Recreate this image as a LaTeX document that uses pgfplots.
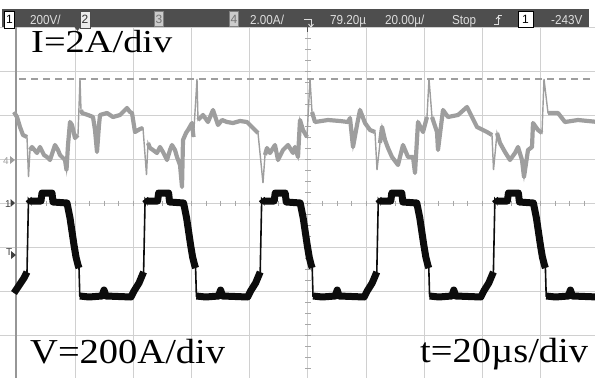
\documentclass[border=0pt]{standalone}
\usepackage{pgfplots}
\pgfplotsset{compat=1.18}
\usepackage{pgfplotstable}
\usepackage{fontspec}
\setmainfont{Liberation Serif}
\newfontfamily\barfont{Liberation Sans}

\definecolor{gridc}{RGB}{208,208,208}
\definecolor{barbg}{RGB}{78,78,78}
\definecolor{bartxt}{RGB}{222,222,222}
\definecolor{chfour}{RGB}{158,158,158}
\definecolor{chone}{RGB}{12,12,12}
\definecolor{framec}{RGB}{150,150,150}

% Screen coordinates: x to the right, y downwards; 58.2 units per horizontal
% division (20 us), 44 units per vertical division.

% Channel 1 (voltage); nan rows separate the fast edges from the noisy levels
\pgfplotstableread{
x y
14 293
20 284
24 278
27 272
nan nan
28.5 199
30 201
41 201
42 193
52 193
53 202
67 203
70 218
74 245
76 257
78 265
79 268
nan nan
79.8 296
89 297
102 296
104 290
106 296
131 297
134 291
139 283
143.6 272
nan nan
145.1 199
146.6 201
157.6 201
158.6 193
168.6 193
169.6 202
183.6 203
186.6 218
190.6 245
192.6 257
194.6 265
195.6 268
nan nan
196.4 296
205.6 297
218.6 296
220.6 290
222.6 296
247.6 297
250.6 291
255.6 283
260.2 272
nan nan
261.7 199
263.2 201
274.2 201
275.2 193
285.2 193
286.2 202
300.2 203
303.2 218
307.2 245
309.2 257
311.2 265
312.2 268
nan nan
313 296
322.2 297
335.2 296
337.2 290
339.2 296
364.2 297
367.2 291
372.2 283
376.8 272
nan nan
378.3 199
379.8 201
390.8 201
391.8 193
401.8 193
402.8 202
416.8 203
419.8 218
423.8 245
425.8 257
427.8 265
428.8 268
nan nan
429.6 296
438.8 297
451.8 296
453.8 290
455.8 296
480.8 297
483.8 291
488.8 283
493.4 272
nan nan
494.9 199
496.4 201
507.4 201
508.4 193
518.4 193
519.4 202
533.4 203
536.4 218
540.4 245
542.4 257
544.4 265
545.4 268
nan nan
546.2 296
555.4 297
568.4 296
570.4 290
572.4 296
598 297
}\chonedata

% Channel 4 (current); nan rows isolate the narrow spikes
\pgfplotstableread{
x y
14 112
17 117
20 127
23 135
27 137
nan nan
28.5 177
nan nan
30 150
32 147
37 153
40 147
44 155
47 157
50 160
55 145
58 150
60 155
65 160
66.5 170
68 145
70 122
72 125
75 138
78 135
nan nan
80 79
nan nan
81 110
82 113
88 115
93 117
95 130
97 152
99 125
100 115
107 113
113 117
120 115
127 108
130 112
132 113
135 132
140 129
143 128
nan nan
146.5 175
nan nan
148 143
150 148
153 150
157 153
160 147
163 152
167 160
170 150
172 145
175 150
177 157
180 165
182 187
183 140
186 133
188 130
192 123
193.5 137
nan nan
197 79
nan nan
198 120
203 115
208 122
213 110
218 125
222 120
227 122
233 123
240 121
247 122
253 128
258 133
nan nan
263 183
nan nan
265 155
267 148
270 153
275 145
278 160
283 150
288 145
293 153
295 147
298 157
300 120
303 130
307 137
nan nan
310 79
nan nan
312 112
315 122
328 120
340 121
348 122
350 118
353 147
357 125
360 110
365 123
370 130
375 132
nan nan
377 170
nan nan
380 143
382 127
385 140
388 148
392 157
398 165
403 145
408 157
413 157
415 173
418 122
423 132
427 117
nan nan
429 79
nan nan
432 117
437 132
438 150
443 110
448 117
458 115
467 107
472 117
477 127
487 132
492 135
nan nan
493.5 170
nan nan
497 133
500 143
505 152
510 160
515 153
518 147
522 160
524 177
528 150
532 147
533 123
538 130
542 133
nan nan
544 79
nan nan
548 113
558 113
565 122
578 120
598 122
}\chfourdata

\begin{document}
\begin{tikzpicture}
\begin{axis}[
  name=scope,
  scale only axis, width=595pt, height=378pt,
  xmin=0, xmax=595, ymin=0, ymax=378, y dir=reverse,
  axis line style={draw=none}, tick style={draw=none},
  xtick={16.8,75.0,133.2,191.4,249.6,307.8,366.0,424.2,482.4,540.6},
  ytick={27,71,115,159,203,247,291,335},
  xticklabels={}, yticklabels={},
  grid=major, major grid style={gridc, line width=1pt},
]
% graticule subdivision marks on the centre lines
\pgfplotsinvokeforeach{1,...,40}{
  \draw[gridc!80!black, line width=0.8pt] (axis cs:{16.8+#1*14.55},200.5) -- (axis cs:{16.8+#1*14.55},205.5);
}
\pgfplotsinvokeforeach{1,...,32}{
  \draw[gridc!80!black, line width=0.8pt] (axis cs:305,{27+#1*11}) -- (axis cs:310.6,{27+#1*11});
}
% screen frame on the left
\draw[framec, line width=2pt] (axis cs:16.3,27) -- (axis cs:16.3,378);
% current limit marker
\draw[chfour, line width=1.2pt, dash pattern=on 7pt off 5pt] (axis cs:19,79) -- (axis cs:600,79);

% channel 4: current
\addplot[chfour, line width=1.4pt, unbounded coords=discard] table {\chfourdata};
\addplot[chfour, line width=4.2pt, line join=round, unbounded coords=jump] table {\chfourdata};
% channel 1: voltage
\addplot[chone, line width=1.6pt, unbounded coords=discard] table {\chonedata};
\addplot[chone, line width=7pt, line join=round, unbounded coords=jump] table {\chonedata};

% channel markers at the left edge
\node[anchor=base west, inner sep=0, text=chfour, font=\barfont\fontsize{10}{10}\selectfont] at (axis cs:3,164) {4};
\fill[chfour] (axis cs:10,156) -- (axis cs:15,160) -- (axis cs:10,164) -- cycle;
\node[anchor=base west, inner sep=0, text=black!75, font=\barfont\fontsize{10}{10}\selectfont] at (axis cs:5,207) {1};
\fill[black!75] (axis cs:10.5,199) -- (axis cs:15,203) -- (axis cs:10.5,207) -- cycle;
\node[anchor=base west, inner sep=0, text=black!75, font=\barfont\fontsize{10}{10}\selectfont] at (axis cs:6,255) {T};
\fill[black!75] (axis cs:11,251) -- (axis cs:16,255) -- (axis cs:11,259) -- cycle;

% status bar
\fill[white] (axis cs:0,0) rectangle (axis cs:595,9);
\fill[barbg] (axis cs:2,9) rectangle (axis cs:589,27);
\fill[barbg] (axis cs:74.5,27) -- (axis cs:80.5,27) -- (axis cs:77.5,31) -- cycle;
\draw[bartxt, line width=0.9pt] (axis cs:304,19) -- (axis cs:311,19) -- (axis cs:311,27);
\draw[bartxt, line width=0.9pt] (axis cs:308.5,24) -- (axis cs:311,27) -- (axis cs:313.5,24);
\draw[barbg, line width=1.2pt] (axis cs:307.5,27) -- (axis cs:307.5,32);
\draw[bartxt, line width=0.9pt] (axis cs:494,24) -- (axis cs:498,24) -- (axis cs:498,15) -- (axis cs:502,15);
\draw[bartxt, line width=0.9pt] (axis cs:496,19) -- (axis cs:498,17) -- (axis cs:500,19);

\filldraw[fill=white, draw=black, line width=0.6pt] (axis cs:4.5,11) rectangle (axis cs:14.5,28);
\node[inner sep=0, text=black, font=\barfont\fontsize{12}{12}\selectfont] at (axis cs:9.5,19.5) {1};
\filldraw[fill=white!92!black, draw=black!70, line width=0.6pt] (axis cs:80,11) rectangle (axis cs:90,28);
\node[inner sep=0, text=black!80, font=\barfont\fontsize{12}{12}\selectfont] at (axis cs:85,19.5) {2};
\filldraw[fill=white!80!black, draw=black!50, line width=0.6pt] (axis cs:154.5,11) rectangle (axis cs:163.5,26);
\node[inner sep=0, text=black!55, font=\barfont\fontsize{12}{12}\selectfont] at (axis cs:159,19) {3};
\filldraw[fill=white!80!black, draw=black!50, line width=0.6pt] (axis cs:229.5,11) rectangle (axis cs:238.5,26);
\node[inner sep=0, text=black!55, font=\barfont\fontsize{12}{12}\selectfont] at (axis cs:234,19) {4};
\filldraw[fill=white, draw=black, line width=0.8pt] (axis cs:518,11) rectangle (axis cs:533,27);
\node[inner sep=0, text=black, font=\barfont\fontsize{12}{12}\selectfont] at (axis cs:525.5,19.5) {1};

\begin{scope}[every node/.style={anchor=base west, inner sep=0, text=bartxt, font=\barfont\fontsize{13}{13}\selectfont, xscale=0.9}]
\node at (axis cs:30,24.5) {200V/};
\node at (axis cs:250,24.5) {2.00A/};
\node at (axis cs:330,24.5) {79.20µ};
\node at (axis cs:385,24.5) {20.00µ/};
\node at (axis cs:452,24.5) {Stop};
\node at (axis cs:551,24.5) {-243V};
\end{scope}

% scale annotations
\node[anchor=base west, inner sep=0, font=\fontsize{32}{32}\selectfont, xscale=1.2] at (axis cs:31,52) {I=2A/div};
\node[anchor=base west, inner sep=0, font=\fontsize{35}{35}\selectfont, xscale=1.1] at (axis cs:30,363) {V=200A/div};
\node[anchor=base west, inner sep=0, font=\fontsize{35}{35}\selectfont, xscale=1.1] at (axis cs:420,362) {t=20µs/div};
\end{axis}
\pgfresetboundingbox
\path[use as bounding box] (scope.south west) rectangle (scope.north east);
\end{tikzpicture}
\end{document}
